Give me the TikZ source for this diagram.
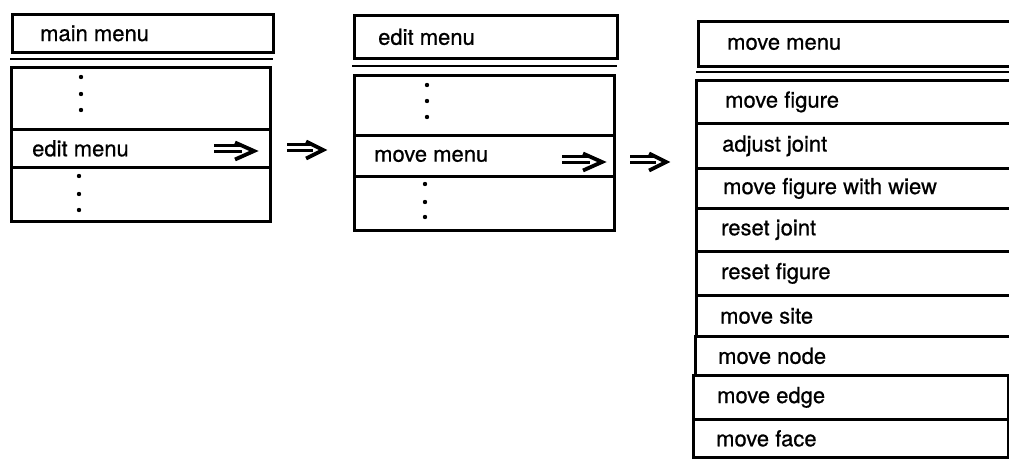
\documentclass[tikz,border=0pt]{standalone}
\usepackage{fontspec}
\setmainfont{TeX Gyre Heros}[AutoFakeBold=0.6]
\begin{document}
\begin{tikzpicture}[x=1pt,y=-1pt,
  mbox/.style={draw, line width=2.8pt, rectangle, anchor=north west, inner sep=0pt},
  mtext/.style={anchor=west, inner sep=0pt, font=\fontsize{22}{26}\selectfont\bfseries},
  sepline/.style={line width=2.8pt},
  mdot/.style={fill=black, draw=none},
  dblarr/.pic={
    \draw[line width=3pt] (-40,-6) -- (-14,-6) (-40,0.5) -- (-12,0.5);
    \draw[line width=3.8pt, line join=miter] (-19,-8.5) -- (0,0) -- (-19,8.5);
  },
  dblarrs/.pic={
    \draw[line width=3pt] (-36,-6) -- (-12,-6) (-36,0.5) -- (-10,0.5);
    \draw[line width=3.8pt, line join=miter] (-17,-8.5) -- (0,0) -- (-17,8.5);
  }]
\useasboundingbox (0,0) rectangle (1009,460);
\clip (0,0) rectangle (1009,460);
\fill[white] (0,0) rectangle (1009,460);

% ---- menu 1 ----
\node[mbox, minimum width=261pt, minimum height=38pt] (m1t) at (11,13) {};
\node[mtext] (m1tt) at ([xshift=29pt]m1t.west) {main menu};
\coordinate (m1sl) at (10,59);
\coordinate (m1sr) at (273,59);
\draw[sepline] (m1sl) -- (m1sr);
\node[mbox, minimum width=259pt, minimum height=62pt] (m1a) at (10,66) {};
\node[mbox, minimum width=259pt, minimum height=38pt] (m1b) at (10,128) {};
\node[mtext] (m1bt) at ([xshift=22pt]m1b.west) {edit menu};
\node[mbox, minimum width=259pt, minimum height=54pt] (m1c) at (10,166) {};
\foreach \yy in {77,94,110} \fill[mdot] (81,\yy) circle (2.2pt);
\foreach \yy in {176,194,210} \fill[mdot] (79,\yy) circle (2.2pt);
\pic at (254,151) {dblarr};
\pic at (323,150) {dblarrs};

% ---- menu 2 ----
\node[mbox, minimum width=263pt, minimum height=43pt] (m2t) at (353,14) {};
\node[mtext] (m2tt) at ([xshift=25pt]m2t.west) {edit menu};
\coordinate (m2sl) at (352,66);
\coordinate (m2sr) at (617,66);
\draw[sepline] (m2sl) -- (m2sr);
\node[mbox, minimum width=260pt, minimum height=60pt] (m2a) at (353,74) {};
\node[mbox, minimum width=260pt, minimum height=41pt] (m2b) at (353,134) {};
\node[mtext] (m2bt) at ([xshift=21pt]m2b.west) {move menu};
\node[mbox, minimum width=260pt, minimum height=54pt] (m2c) at (353,175) {};
\foreach \yy in {85,101,117} \fill[mdot] (427,\yy) circle (2.2pt);
\foreach \yy in {184,202,217} \fill[mdot] (425,\yy) circle (2.2pt);
\pic at (602,162) {dblarr};
\pic at (666,162) {dblarrs};

% ---- menu 3 ----
\node[mbox, minimum width=330pt, minimum height=45pt] (m3t) at (697,20) {};
\node[mtext] (m3tt) at ([xshift=30pt]m3t.west) {move menu};
\coordinate (m3sl) at (696,72);
\coordinate (m3sr) at (1030,72);
\draw[sepline] (m3sl) -- (m3sr);
\node[mbox, minimum width=330pt, minimum height=43pt] (r1) at (695,79) {};
\node[mtext] at ([xshift=30pt]r1.west) {move figure};
\node[mbox, minimum width=330pt, minimum height=45pt] (r2) at (695,122) {};
\node[mtext] at ([xshift=27pt]r2.west) {adjust joint};
\node[mbox, minimum width=330pt, minimum height=40pt] (r3) at (695,167) {};
\node[mtext] at ([xshift=28pt]r3.west) {move figure with wiew};
\node[mbox, minimum width=330pt, minimum height=43pt] (r4) at (695,207) {};
\node[mtext] at ([xshift=26pt]r4.west) {reset joint};
\node[mbox, minimum width=330pt, minimum height=44pt] (r5) at (695,250) {};
\node[mtext] at ([xshift=26pt]r5.west) {reset figure};
\node[mbox, minimum width=330pt, minimum height=41pt] (r6) at (695,294) {};
\node[mtext] at ([xshift=25pt]r6.west) {move site};
\node[mbox, minimum width=330pt, minimum height=39pt] (r7) at (694,335) {};
\node[mtext] at ([xshift=24pt]r7.west) {move node};
\node[mbox, minimum width=315pt, minimum height=44pt] (r8) at (692,374) {};
\node[mtext] at ([xshift=25pt]r8.west) {move edge};
\node[mbox, minimum width=315pt, minimum height=38pt] (r9) at (692,418) {};
\node[mtext] at ([xshift=24pt]r9.west) {move face};
\end{tikzpicture}
\end{document}
